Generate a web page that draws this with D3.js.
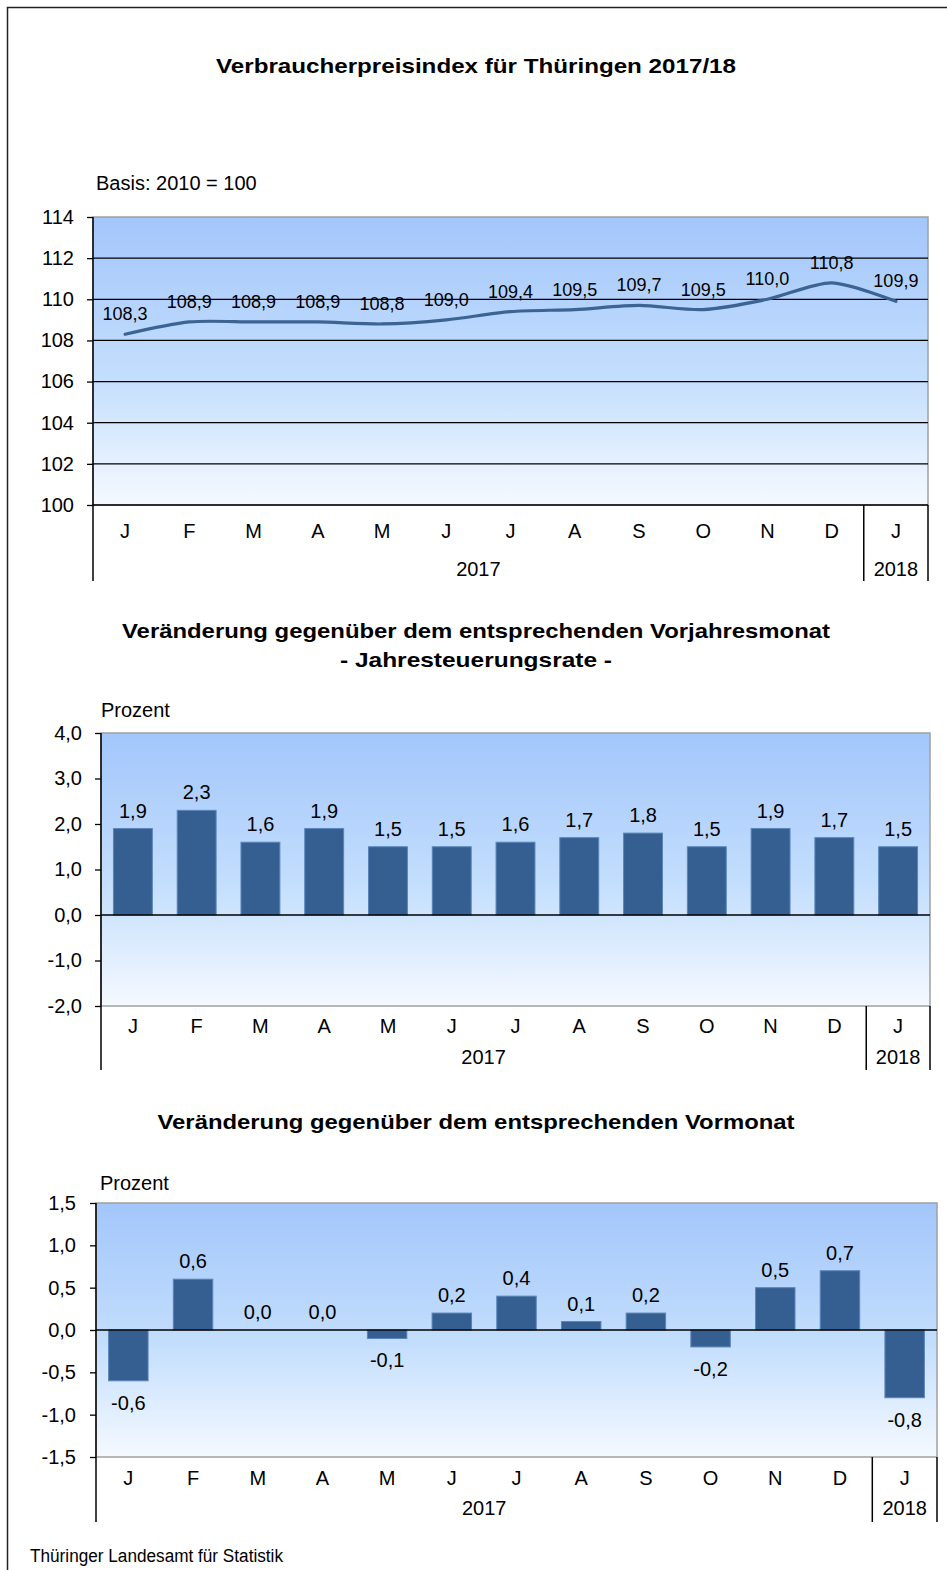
<!DOCTYPE html>
<html>
<head>
<meta charset="utf-8">
<script src="https://cdn.jsdelivr.net/npm/d3@7"></script>
<style>
	body { margin: 0; background: #fff; }
	svg { display: block; font-family: "Liberation Sans", Arial, sans-serif; }
</style>
</head>
<body>
<svg id="chart"></svg>
<script>
	// data
	var months = ["J", "F", "M", "A", "M", "J", "J", "A", "S", "O", "N", "D", "J"];
	var years = ["2017", "2018"];
	var yearSpans = [12, 1];

	var indexValues = [108.3, 108.9, 108.9, 108.9, 108.8, 109.0, 109.4, 109.5, 109.7, 109.5, 110.0, 110.8, 109.9];
	var indexTicks = [100, 102, 104, 106, 108, 110, 112, 114];

	var yearRate = [1.9, 2.3, 1.6, 1.9, 1.5, 1.5, 1.6, 1.7, 1.8, 1.5, 1.9, 1.7, 1.5];
	var yearRateTicks = [-2, -1, 0, 1, 2, 3, 4];

	var monthRate = [-0.6, 0.6, 0.0, 0.0, -0.1, 0.2, 0.4, 0.1, 0.2, -0.2, 0.5, 0.7, -0.8];
	var monthRateTicks = [-1.5, -1.0, -0.5, 0.0, 0.5, 1.0, 1.5];

	const width = 947;
	const height = 1570;

	var de = d3.formatLocale({decimal: ",", thousands: ".", grouping: [3], currency: ["", " €"], minus: "-"});
	var fmt1 = de.format(".1f");
	var fmt0 = de.format("d");

	var svg = d3.select("#chart")
		.attr("width", width)
		.attr("height", height);

	// background gradient
	var grad = svg.append("defs").append("linearGradient")
		.attr("id", "bg")
		.attr("x1", 0).attr("y1", 0).attr("x2", 0).attr("y2", 1);
	grad.append("stop").attr("offset", "0%").attr("stop-color", "#a3c6fb");
	grad.append("stop").attr("offset", "55%").attr("stop-color", "#c3defd");
	grad.append("stop").attr("offset", "100%").attr("stop-color", "#f5f9ff");

	// frame
	svg.append("path")
		.attr("d", "M7.5," + height + " V7.5 H" + width)
		.attr("fill", "none")
		.attr("stroke", "#222")
		.attr("stroke-width", 1.5);

	function title(lines, y, lengths) {
		lines.forEach(function(t, i) {
			svg.append("text")
				.attr("x", 476)
				.attr("y", y + i * 29)
				.attr("text-anchor", "middle")
				.attr("font-weight", "bold")
				.attr("font-size", 21)
				.attr("textLength", lengths[i])
				.attr("lengthAdjust", "spacingAndGlyphs")
				.text(t);
		});
	}

	// common panel frame: background, axes, category labels
	function panel(p) {
		var x = d3.scaleBand()
			.domain(d3.range(months.length))
			.range([p.left, p.right])
			.paddingInner(0.39)
			.paddingOuter(0.195);

		var y = d3.scaleLinear()
			.domain(p.domain)
			.range([p.bottom, p.top]);

		var g = svg.append("g");

		g.append("rect")
			.attr("x", p.left).attr("y", p.top)
			.attr("width", p.right - p.left).attr("height", p.bottom - p.top)
			.attr("fill", "url(#bg)")
			.attr("stroke", "#a0a0a0")
			.attr("stroke-width", 1.5);

		// y axis
		var yAxis = d3.axisLeft(y)
			.tickValues(p.ticks)
			.tickSize(6)
			.tickSizeOuter(0)
			.tickPadding(p.tickPad)
			.tickFormat(p.fmt);

		var ya = g.append("g")
			.attr("transform", "translate(" + p.left + ",0)")
			.call(yAxis);
		ya.select(".domain").remove();
		ya.selectAll("line").attr("stroke", "#000").attr("stroke-width", 1.3);
		ya.selectAll("text")
			.attr("font-size", 20)
			.attr("font-family", "Liberation Sans, Arial, sans-serif")
			.attr("fill", "#000");

		// x axis labels
		var xAxis = d3.axisBottom(x)
			.tickSize(0)
			.tickPadding(0)
			.tickFormat(function(i) { return months[i]; });

		var xa = g.append("g")
			.attr("transform", "translate(0," + (p.bottom + p.monthDy) + ")")
			.call(xAxis);
		xa.select(".domain").remove();
		xa.selectAll("text")
			.attr("dy", 0)
			.attr("font-size", 20)
			.attr("font-family", "Liberation Sans, Arial, sans-serif")
			.attr("fill", "#000");

		// year labels
		var start = 0;
		var step = x.step();
		years.forEach(function(yr, k) {
			var x0 = p.left + start * step;
			var x1 = x0 + yearSpans[k] * step;
			g.append("text")
				.attr("x", (x0 + x1) / 2)
				.attr("y", p.bottom + p.yearDy)
				.attr("text-anchor", "middle")
				.attr("font-size", 20)
				.text(yr);
			start += yearSpans[k];
		});

		// vertical lines below the plot
		var seps = [p.left + yearSpans[0] * step, p.right];
		seps.forEach(function(sx) {
			g.append("line")
				.attr("x1", sx).attr("x2", sx)
				.attr("y1", p.bottom).attr("y2", p.lineBottom)
				.attr("stroke", "#000").attr("stroke-width", 1.5);
		});
		g.append("line")
			.attr("x1", p.left).attr("x2", p.left)
			.attr("y1", p.top).attr("y2", p.lineBottom)
			.attr("stroke", "#000").attr("stroke-width", 1.5);

		// unit label
		if (p.unit) {
			g.append("text")
				.attr("x", p.unitX)
				.attr("y", p.top - p.unitDy)
				.attr("font-size", 20)
				.text(p.unit);
		}

		return {x: x, y: y, g: g};
	}

	// panel 1: index line ///////////////

	title(["Verbraucherpreisindex für Thüringen 2017/18"], 73, [520]);

	var p1 = panel({
		left: 93, right: 928, top: 217, bottom: 505, lineBottom: 581,
		domain: [100, 114], ticks: indexTicks, fmt: fmt0, tickPad: 13,
		monthDy: 33, yearDy: 71,
		unit: "Basis: 2010 = 100", unitX: 96, unitDy: 27
	});

	// gridlines
	p1.g.selectAll(".grid")
		.data(indexTicks.slice(0, -1))
		.enter()
		.append("line")
			.attr("x1", 93).attr("x2", 928)
			.attr("y1", function(d) { return p1.y(d); })
			.attr("y2", function(d) { return p1.y(d); })
			.attr("stroke", "#000")
			.attr("stroke-width", function(d) { return d === 100 ? 1.5 : 1.3; });

	var cx1 = function(d, i) { return p1.x(i) + p1.x.bandwidth() / 2; };

	p1.g.append("path")
		.datum(indexValues)
		.attr("fill", "none")
		.attr("stroke", "#3b6394")
		.attr("stroke-width", 3.2)
		.attr("stroke-linecap", "round")
		.attr("d", d3.line()
			.x(cx1)
			.y(function(d) { return p1.y(d); })
			.curve(d3.curveCardinal.tension(0.2)));

	p1.g.selectAll(".lbl")
		.data(indexValues)
		.enter()
		.append("text")
			.attr("x", cx1)
			.attr("y", function(d) { return p1.y(d) - 14; })
			.attr("text-anchor", "middle")
			.attr("font-size", 18)
			.text(function(d) { return fmt1(d); });

	// panel 2: yearly rate ///////////////

	title(["Veränderung gegenüber dem entsprechenden Vorjahresmonat", "- Jahresteuerungsrate -"], 638, [708, 272]);

	var p2 = panel({
		left: 101, right: 930, top: 733, bottom: 1006, lineBottom: 1070,
		domain: [-2, 4], ticks: yearRateTicks, fmt: fmt1, tickPad: 13,
		monthDy: 27, yearDy: 58,
		unit: "Prozent", unitX: 101, unitDy: 16
	});

	function bars(p, values) {
		p.g.selectAll(".bar")
			.data(values)
			.enter()
			.append("rect")
				.attr("x", function(d, i) { return p.x(i); })
				.attr("width", p.x.bandwidth())
				.attr("y", function(d) { return p.y(Math.max(0, d)); })
				.attr("height", function(d) { return Math.abs(p.y(d) - p.y(0)); })
				.attr("fill", "#365f91")
				.attr("stroke", "#5a85bb")
				.attr("stroke-width", 1);

		p.g.append("line")
			.attr("x1", p.x.range()[0]).attr("x2", p.x.range()[1])
			.attr("y1", p.y(0)).attr("y2", p.y(0))
			.attr("stroke", "#000").attr("stroke-width", 1.5);

		p.g.selectAll(".val")
			.data(values)
			.enter()
			.append("text")
				.attr("x", function(d, i) { return p.x(i) + p.x.bandwidth() / 2; })
				.attr("y", function(d) { return d < 0 ? p.y(d) + 29 : p.y(d) - 11; })
				.attr("text-anchor", "middle")
				.attr("font-size", 20)
				.text(function(d) { return fmt1(d); });
	}

	bars(p2, yearRate);

	// panel 3: monthly rate ///////////////

	title(["Veränderung gegenüber dem entsprechenden Vormonat"], 1129, [637]);

	var p3 = panel({
		left: 96, right: 937, top: 1203, bottom: 1457, lineBottom: 1522,
		domain: [-1.5, 1.5], ticks: monthRateTicks, fmt: fmt1, tickPad: 14,
		monthDy: 28, yearDy: 58,
		unit: "Prozent", unitX: 100, unitDy: 13
	});

	bars(p3, monthRate);

	// source
	svg.append("text")
		.attr("x", 30)
		.attr("y", 1562)
		.attr("font-size", 18)
		.attr("textLength", 253)
		.attr("lengthAdjust", "spacingAndGlyphs")
		.text("Thüringer Landesamt für Statistik");
</script>
</body>
</html>
